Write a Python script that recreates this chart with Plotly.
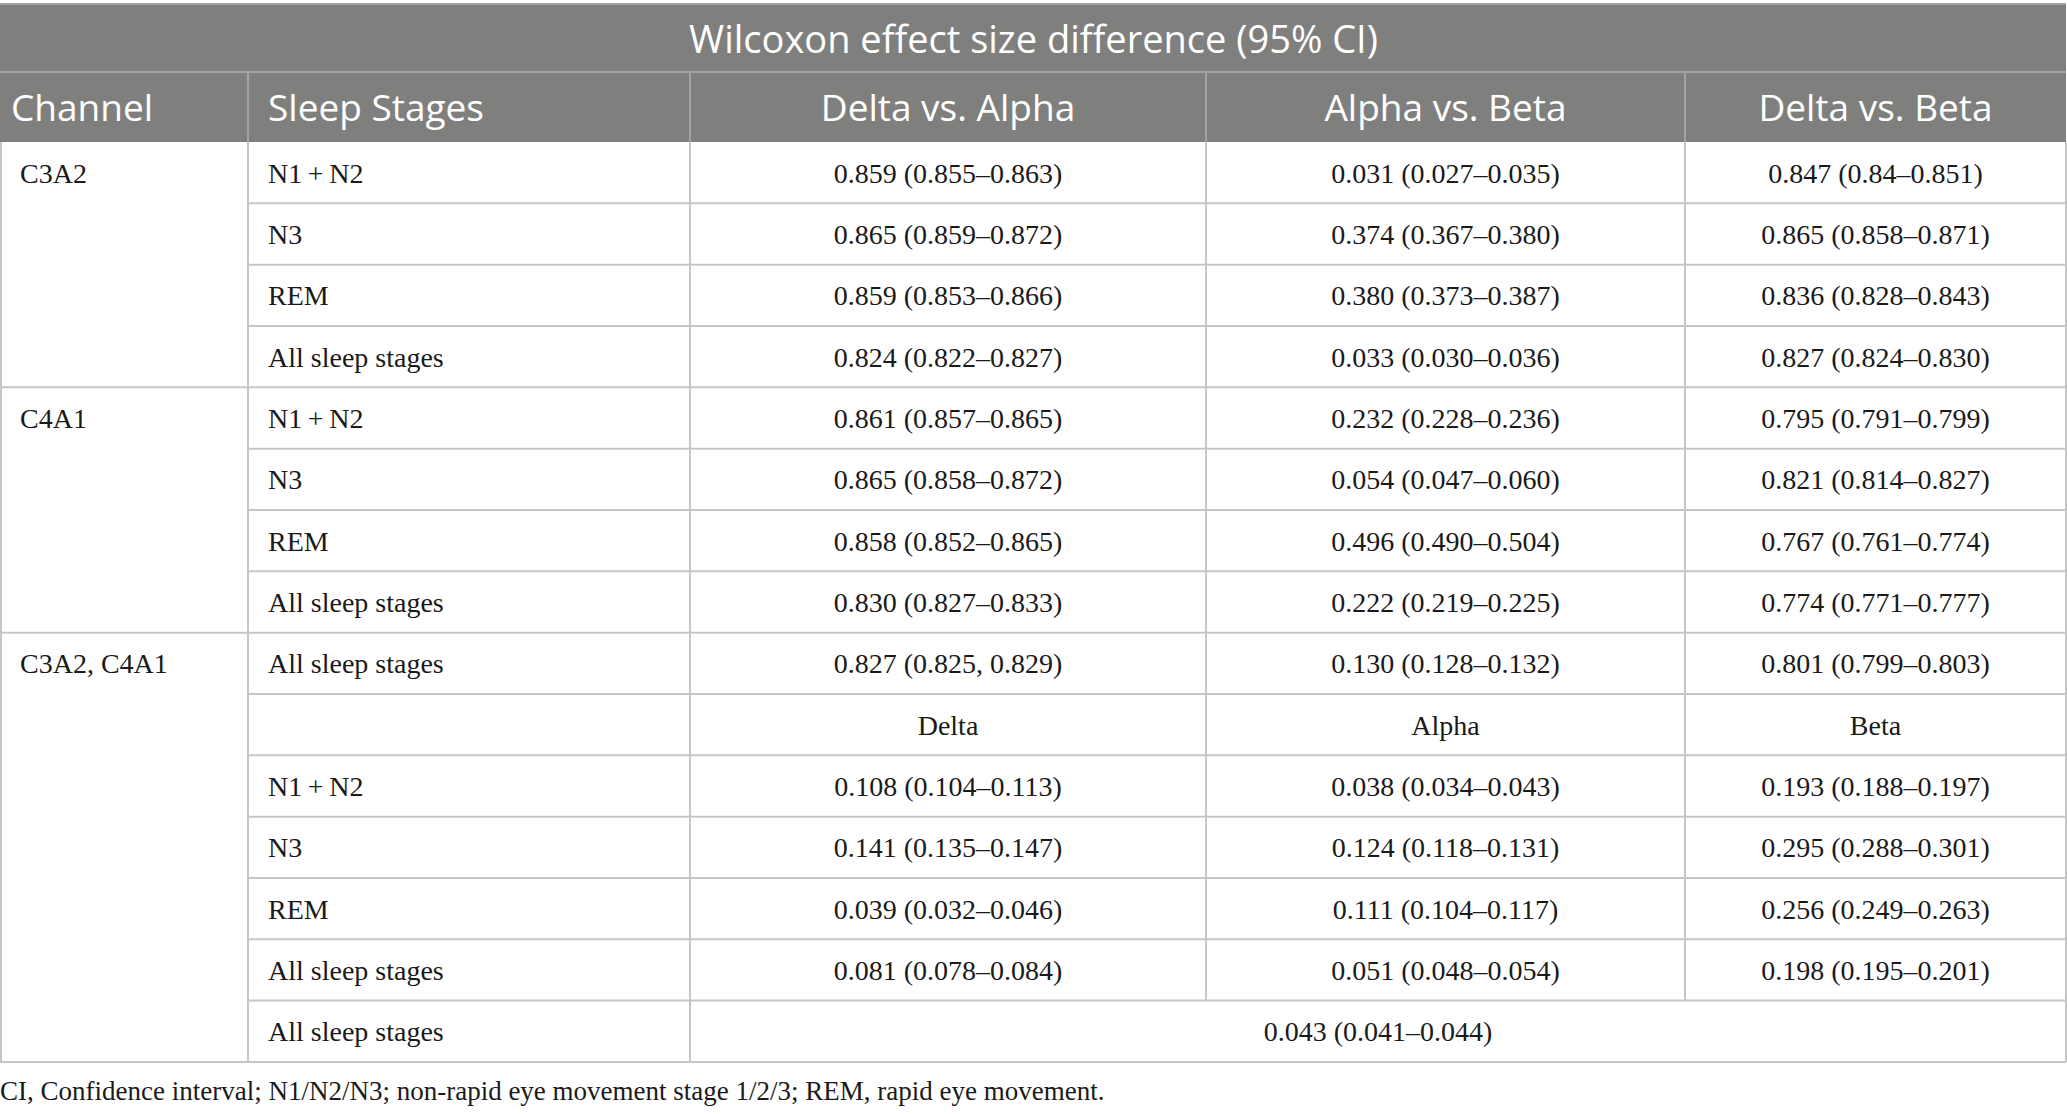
import plotly.graph_objects as go

# table content
title_text = "Wilcoxon effect size difference (95% CI)"
col_headers = ["Channel", "Sleep Stages", "Delta vs. Alpha", "Alpha vs. Beta", "Delta vs. Beta"]
channels = ["C3A2", "C4A1", "C3A2, C4A1"]
channel_spans = [4, 4, 7]
stages = ["N1\u2009+\u2009N2", "N3", "REM", "All sleep stages",
          "N1\u2009+\u2009N2", "N3", "REM", "All sleep stages",
          "All sleep stages", "",
          "N1\u2009+\u2009N2", "N3", "REM", "All sleep stages",
          "All sleep stages"]
delta_alpha = ["0.859 (0.855–0.863)", "0.865 (0.859–0.872)", "0.859 (0.853–0.866)", "0.824 (0.822–0.827)",
               "0.861 (0.857–0.865)", "0.865 (0.858–0.872)", "0.858 (0.852–0.865)", "0.830 (0.827–0.833)",
               "0.827 (0.825, 0.829)", "Delta",
               "0.108 (0.104–0.113)", "0.141 (0.135–0.147)", "0.039 (0.032–0.046)", "0.081 (0.078–0.084)"]
alpha_beta = ["0.031 (0.027–0.035)", "0.374 (0.367–0.380)", "0.380 (0.373–0.387)", "0.033 (0.030–0.036)",
              "0.232 (0.228–0.236)", "0.054 (0.047–0.060)", "0.496 (0.490–0.504)", "0.222 (0.219–0.225)",
              "0.130 (0.128–0.132)", "Alpha",
              "0.038 (0.034–0.043)", "0.124 (0.118–0.131)", "0.111 (0.104–0.117)", "0.051 (0.048–0.054)"]
delta_beta = ["0.847 (0.84–0.851)", "0.865 (0.858–0.871)", "0.836 (0.828–0.843)", "0.827 (0.824–0.830)",
              "0.795 (0.791–0.799)", "0.821 (0.814–0.827)", "0.767 (0.761–0.774)", "0.774 (0.771–0.777)",
              "0.801 (0.799–0.803)", "Beta",
              "0.193 (0.188–0.197)", "0.295 (0.288–0.301)", "0.256 (0.249–0.263)", "0.198 (0.195–0.201)"]
merged_value = "0.043 (0.041–0.044)"
footnote = "CI, Confidence interval; N1/N2/N3; non-rapid eye movement stage 1/2/3; REM, rapid eye movement."

# layout (pixels)
W, H = 2067, 1114
COLS = [1, 248, 690, 1206, 1685, 2066]
TOP = 4
TITLE_BOTTOM = 72
HEAD_BOTTOM = 142
ROW_H = 61.33
N_ROWS = len(stages)
HEAD_GRAY = "#7f807e"
HEAD_LINE = "#a3a3a3"
GRID = "#c6c6c6"
SANS = "Open Sans"
SERIF = "Liberation Serif"
BODY = 28

row_top = [HEAD_BOTTOM + i * ROW_H for i in range(N_ROWS)]
row_mid = [t + ROW_H / 2 + 3 for t in row_top]
bottom = HEAD_BOTTOM + N_ROWS * ROW_H

shapes = []
shapes.append(dict(type="rect", x0=0, x1=COLS[-1], y0=TOP, y1=HEAD_BOTTOM,
                   fillcolor=HEAD_GRAY, line=dict(width=0), layer="below"))
shapes.append(dict(type="line", x0=0, x1=COLS[-1], y0=TITLE_BOTTOM, y1=TITLE_BOTTOM,
                   line=dict(color=HEAD_LINE, width=2)))
shapes.append(dict(type="line", x0=0, x1=COLS[-1], y0=TOP, y1=TOP,
                   line=dict(color=HEAD_LINE, width=2)))
for x in COLS[1:-1]:
    shapes.append(dict(type="line", x0=x, x1=x, y0=TITLE_BOTTOM, y1=HEAD_BOTTOM,
                       line=dict(color=HEAD_LINE, width=2)))

# body grid
span_ends = []
acc = 0
for s in channel_spans:
    acc += s
    span_ends.append(acc)
for i in range(N_ROWS):
    y = row_top[i] + ROW_H
    x0 = 0 if (i + 1) in span_ends else COLS[1]
    shapes.append(dict(type="line", x0=x0, x1=COLS[-1], y0=y, y1=y,
                       line=dict(color=GRID, width=2)))
for x in [COLS[0], COLS[1], COLS[2], COLS[-1]]:
    shapes.append(dict(type="line", x0=x, x1=x, y0=HEAD_BOTTOM, y1=bottom,
                       line=dict(color=GRID, width=2)))
for x in COLS[3:5]:
    shapes.append(dict(type="line", x0=x, x1=x, y0=HEAD_BOTTOM, y1=row_top[-1],
                       line=dict(color=GRID, width=2)))

fig = go.Figure()

def add_text(xs, ys, texts, pos, size, color, family):
    fig.add_trace(go.Scatter(x=xs, y=ys, text=texts, mode="text", textposition=pos,
                             textfont=dict(size=size, color=color, family=family),
                             hoverinfo="skip", showlegend=False))

# header
add_text([(COLS[0] + COLS[-1]) / 2], [(TOP + TITLE_BOTTOM) / 2 + 5], [title_text],
         "middle center", 38, "white", SANS)
head_y = (TITLE_BOTTOM + HEAD_BOTTOM) / 2 + 5
add_text([11, COLS[1] + 20], [head_y, head_y], col_headers[:2], "middle right", 37, "white", SANS)
add_text([(COLS[i] + COLS[i + 1]) / 2 for i in range(2, 5)], [head_y] * 3, col_headers[2:],
         "middle center", 37, "white", SANS)

# channel column
ch_rows = [0] + span_ends[:-1]
add_text([20] * len(channels), [row_mid[r] for r in ch_rows], channels,
         "middle right", BODY, "#1a1a1a", SERIF)
# stages column
add_text([COLS[1] + 20] * N_ROWS, row_mid, stages, "middle right", BODY, "#1a1a1a", SERIF)
# value columns
for ci, vals in zip([2, 3, 4], [delta_alpha, alpha_beta, delta_beta]):
    xc = (COLS[ci] + COLS[ci + 1]) / 2
    add_text([xc] * len(vals), row_mid[:len(vals)], vals, "middle center", BODY, "#1a1a1a", SERIF)
add_text([(COLS[2] + COLS[-1]) / 2], [row_mid[-1]], [merged_value], "middle center", BODY, "#1a1a1a", SERIF)

# footnote
add_text([0], [bottom + 31], [footnote], "middle right", 27, "#1a1a1a", SERIF)

fig.update_layout(
    width=W, height=H,
    margin=dict(l=0, r=0, t=0, b=0),
    paper_bgcolor="white", plot_bgcolor="white",
    shapes=shapes,
    xaxis=dict(range=[0, W], visible=False, fixedrange=True),
    yaxis=dict(range=[H, 0], visible=False, fixedrange=True),
)

fig.write_html("out.html", config={"displayModeBar": False},
               post_script="document.body.style.margin='0';document.body.style.overflow='hidden';")
